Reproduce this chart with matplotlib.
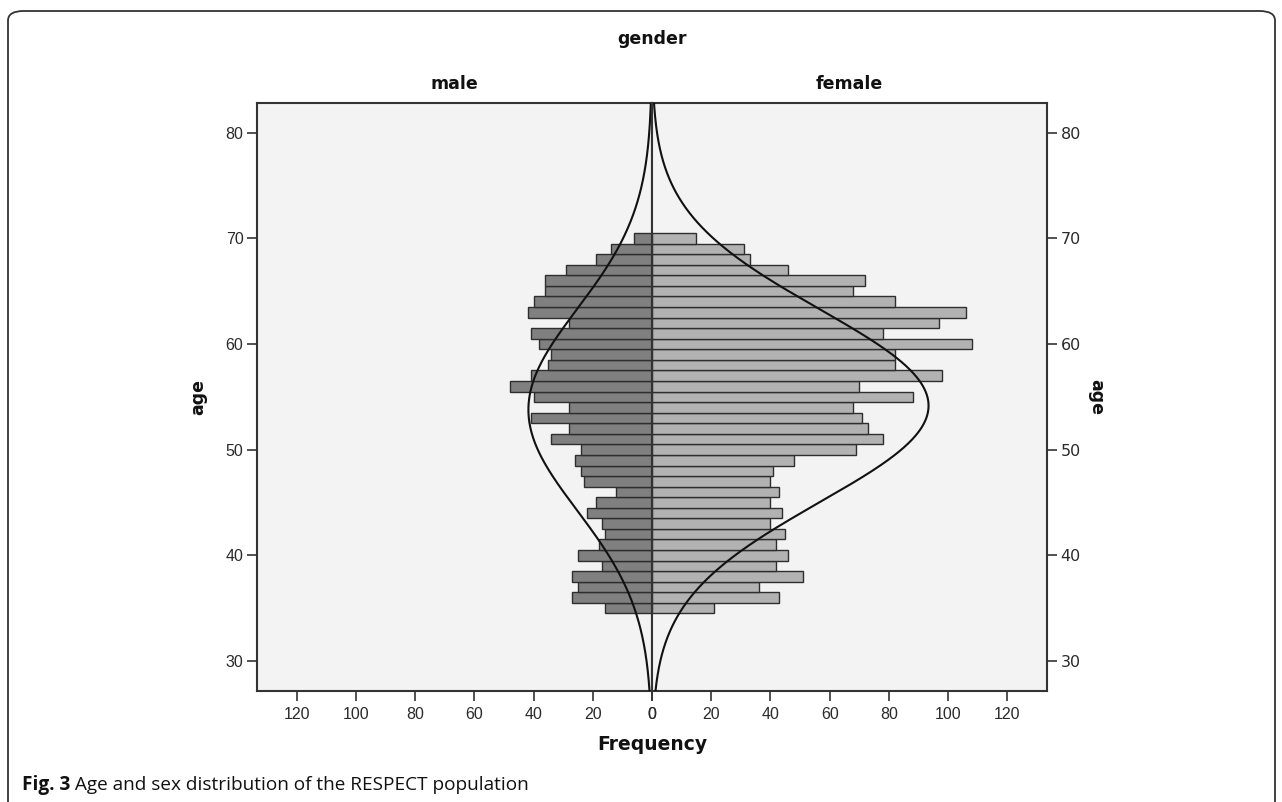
import numpy as np
import matplotlib
matplotlib.use("Agg")
import matplotlib.pyplot as plt
from matplotlib.patches import FancyBboxPatch

# ---- data ----
ages = list(range(35, 71))
male = [16, 27, 25, 27, 17, 25, 18, 16, 17, 22, 19, 12, 23, 24, 26, 24, 34, 28,
        41, 28, 40, 48, 41, 35, 34, 38, 41, 28, 42, 40, 36, 36, 29, 19, 14, 6]
female = [21, 43, 36, 51, 42, 46, 42, 45, 40, 44, 40, 43, 40, 41, 48, 69, 78, 73,
          71, 68, 88, 70, 98, 82, 82, 108, 78, 97, 106, 82, 68, 72, 46, 33, 31, 15]
x_ticks = [0, 20, 40, 60, 80, 100, 120]
y_ticks = [30, 40, 50, 60, 70, 80]
panel_titles = ["male", "female"]
caption_bold = "Fig. 3"
caption_text = " Age and sex distribution of the RESPECT population"

W, H = 1282, 802
fig = plt.figure(figsize=(W / 100, H / 100), dpi=100)
fig.patch.set_facecolor("white")

def fx(px):
    return px / W

def fy(py):
    return 1 - py / H

left_px, mid_px, right_px = 257.3, 652.0, 1046.7
top_px, bot_px = 102.7, 691.0
ax_m = fig.add_axes([fx(left_px), fy(bot_px), fx(mid_px - left_px), (bot_px - top_px) / H])
ax_f = fig.add_axes([fx(mid_px), fy(bot_px), fx(right_px - mid_px), (bot_px - top_px) / H])

frame_col = "#333333"
bg_col = "#f3f3f3"
male_col = "#808080"
female_col = "#b2b2b2"
edge_col = "#2e2e2e"
xmax = 133.3
ylim = (27.16, 82.84)

ages_arr = np.array(ages, dtype=float)
ygrid = np.linspace(ylim[0], ylim[1], 600)

def normal_curve(counts):
    c = np.array(counts, dtype=float)
    n = c.sum()
    mu = np.sum(c * ages_arr) / n
    sd = np.sqrt(np.sum(c * (ages_arr - mu) ** 2) / (n - 1))
    return n / (sd * np.sqrt(2 * np.pi)) * np.exp(-0.5 * ((ygrid - mu) / sd) ** 2)

for ax, vals, col in [(ax_m, male, male_col), (ax_f, female, female_col)]:
    ax.set_facecolor(bg_col)
    ax.barh(ages, vals, height=1.0, color=col, edgecolor=edge_col, linewidth=1.0, zorder=2)
    ax.plot(normal_curve(vals), ygrid, color="#111111", lw=1.5, zorder=3)
    ax.set_ylim(*ylim)
    ax.set_xticks(x_ticks)
    ax.set_xticklabels([str(t) for t in x_ticks])
    ax.set_yticks(y_ticks)
    for s in ax.spines.values():
        s.set_color(frame_col)
        s.set_linewidth(1.5)
    ax.tick_params(axis="both", direction="out", length=7.5, width=1.2, color=frame_col,
                   labelsize=11.5, labelcolor="#2a2a2a", pad=2.5)
    ax.tick_params(axis="x", pad=4)
    for lab in ax.get_xticklabels() + ax.get_yticklabels():
        lab.set_family("Liberation Sans")

ax_m.set_xlim(xmax, 0)
ax_f.set_xlim(0, xmax)
ax_f.yaxis.tick_right()
ax_f.yaxis.set_label_position("right")

bold_font = dict(family="DejaVu Sans", weight="bold", color="#111111")
ax_m.set_ylabel("age", fontsize=12.5, labelpad=18, **bold_font)
ax_f.set_ylabel("age", fontsize=12.5, labelpad=18, rotation=270, va="center", **bold_font)
ax_f.yaxis.set_label_coords(1.0 + (1096.7 - right_px) / (right_px - mid_px), 0.5)
ax_m.yaxis.set_label_coords(-(left_px - 207) / (mid_px - left_px), 0.5)

fig.text(fx(652), fy(39), "gender", ha="center", va="center", fontsize=12.5, **bold_font)
fig.text(fx((left_px + mid_px) / 2), fy(84), panel_titles[0], ha="center", va="center", fontsize=12.5, **bold_font)
fig.text(fx((mid_px + right_px) / 2), fy(84), panel_titles[1], ha="center", va="center", fontsize=12.5, **bold_font)
fig.text(fx(652), fy(745), "Frequency", ha="center", va="center", fontsize=13.5, **bold_font)

# outer rounded frame
frame = FancyBboxPatch((fx(8), fy(830)), fx(1275 - 8), (830 - 11) / H,
                       boxstyle="round,pad=0,rounding_size=0.012",
                       transform=fig.transFigure, fill=False, edgecolor="#333333",
                       linewidth=1.3, clip_on=False)
fig.patches.append(frame)

t1 = fig.text(fx(22), fy(785), caption_bold, ha="left", va="center", fontsize=13.7,
              family="Open Sans", weight="bold", color="#111111")
fig.canvas.draw()
bb = t1.get_window_extent()
fig.text(bb.x1 / W, fy(785), caption_text, ha="left", va="center", fontsize=13.7,
         family="Open Sans", color="#111111")

fig.savefig("out.png", dpi=100, facecolor="white")
